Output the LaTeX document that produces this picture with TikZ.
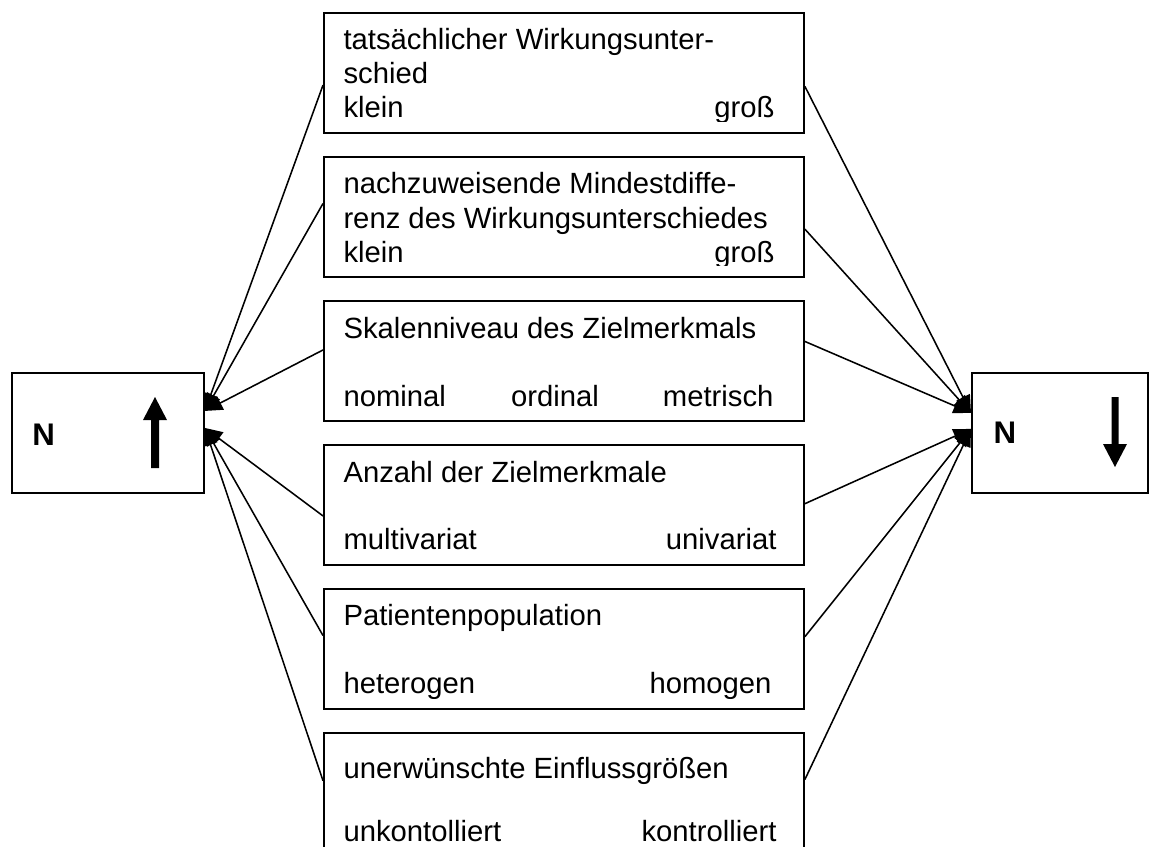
\documentclass[tikz,border=0pt]{standalone}
\usepackage{fontspec}
\setmainfont{Liberation Sans}
\usetikzlibrary{arrows.meta,calc}
\begin{document}
\begin{tikzpicture}[x=0.4pt,y=-0.4pt,
  box/.style={draw,line width=0.75pt,minimum width=192pt,minimum height=48pt,anchor=north west,inner sep=0pt},
  side/.style={draw,line width=0.75pt,minimum height=48pt,anchor=north west,inner sep=0pt},
  txt/.style={inner sep=0pt,anchor=base west,font=\fontsize{11.7pt}{14pt}\selectfont},
  rtxt/.style={txt,anchor=base east},
  ctxt/.style={txt,anchor=base},
  bigN/.style={inner sep=0pt,anchor=base west,font=\fontsize{12.5pt}{14pt}\selectfont\bfseries},
  conn/.style={line width=0.62pt,-{Triangle[length=7pt,width=6pt]}}]
\clip (0,0) rectangle (1155,847);
% side boxes
\node[side,minimum width=76.8pt] (L) at (11,372) {};
\node[side,minimum width=70.4pt] (R) at (971,372) {};
\node[bigN] (LN) at (32,445) {N};
\node[bigN] (RN) at (993,443) {N};
\fill (151,468) -- (151,420) -- (143,420) -- (155,397) -- (167,420) -- (159,420) -- (159,468) -- cycle;
\fill (1111.5,397) -- (1111.5,444) -- (1103,444) -- (1115,467) -- (1127,444) -- (1118.5,444) -- (1118.5,397) -- cycle;
% middle boxes
\node[box] (b1) at (323,12) {};
\node[box] (b2) at (323,156) {};
\node[box] (b3) at (323,300) {};
\node[box] (b4) at (323,444) {};
\node[box] (b5) at (323,588) {};
\node[box] (b6) at (323,732) {};
% texts
\begin{scope}
\clip (323,12) rectangle (803,121);
\node[txt] (t1a) at (343,49) {tatsächlicher Wirkungsunter-};
\node[txt] (t1b) at (343,83) {schied};
\node[txt] (t1c) at (343,117) {klein};
\node[rtxt] (t1d) at (775,117) {groß};
\end{scope}
\begin{scope}
\clip (323,156) rectangle (803,265);
\node[txt] (t2a) at (343,193) {nachzuweisende Mindestdiffe-};
\node[txt] (t2b) at (343,228) {renz des Wirkungsunterschiedes};
\node[txt] (t2c) at (343,262) {klein};
\node[rtxt] (t2d) at (775,262) {groß};
\end{scope}
\node[txt] (t3a) at (343,338) {Skalenniveau des Zielmerkmals};
\node[txt] (t3b) at (343,406) {nominal};
\node[ctxt] (t3c) at (555,406) {ordinal};
\node[rtxt] (t3d) at (774,406) {metrisch};
\node[txt] (t4a) at (343,482) {Anzahl der Zielmerkmale};
\node[txt] (t4b) at (343,549) {multivariat};
\node[rtxt] (t4c) at (777,549) {univariat};
\begin{scope}
\clip (323,588) rectangle (803,698);
\node[txt] (t5a) at (343,625) {Patientenpopulation};
\node[txt] (t5b) at (343,693) {heterogen};
\node[rtxt] (t5c) at (772,693) {homogen};
\end{scope}
\node[txt] (t6a) at (343,778) {unerwünschte Einflussgrößen};
\node[txt] (t6b) at (343,841) {unkontolliert};
\node[rtxt] (t6c) at (777,841) {kontrolliert};
% connector targets
\coordinate (Lup) at ([yshift=8.8pt]L.east);
\coordinate (Llo) at ([yshift=2pt]L.east);
\coordinate (Rup) at ([yshift=8pt]R.west);
\coordinate (Rlo) at ([yshift=1.6pt]R.west);
% left connectors
\draw[conn] ($(b1.north west)!0.6!(b1.south west)$) -- (Lup);
\draw[conn] ($(b2.north west)!0.39!(b2.south west)$) -- (Lup);
\draw[conn] ($(b3.north west)!0.41!(b3.south west)$) -- (Lup);
\draw[conn] ($(b4.north west)!0.59!(b4.south west)$) -- (Llo);
\draw[conn] ($(b5.north west)!0.39!(b5.south west)$) -- (Llo);
\draw[conn] ($(b6.north west)!0.4!(b6.south west)$) -- (Llo);
% right connectors
\draw[conn] ($(b1.north east)!0.61!(b1.south east)$) -- (Rup);
\draw[conn] ($(b2.north east)!0.6!(b2.south east)$) -- (Rup);
\draw[conn] ($(b3.north east)!0.34!(b3.south east)$) -- (Rup);
\draw[conn] ($(b4.north east)!0.49!(b4.south east)$) -- (Rlo);
\draw[conn] ($(b5.north east)!0.4!(b5.south east)$) -- (Rlo);
\draw[conn] ($(b6.north east)!0.39!(b6.south east)$) -- (Rlo);
\end{tikzpicture}
\end{document}
